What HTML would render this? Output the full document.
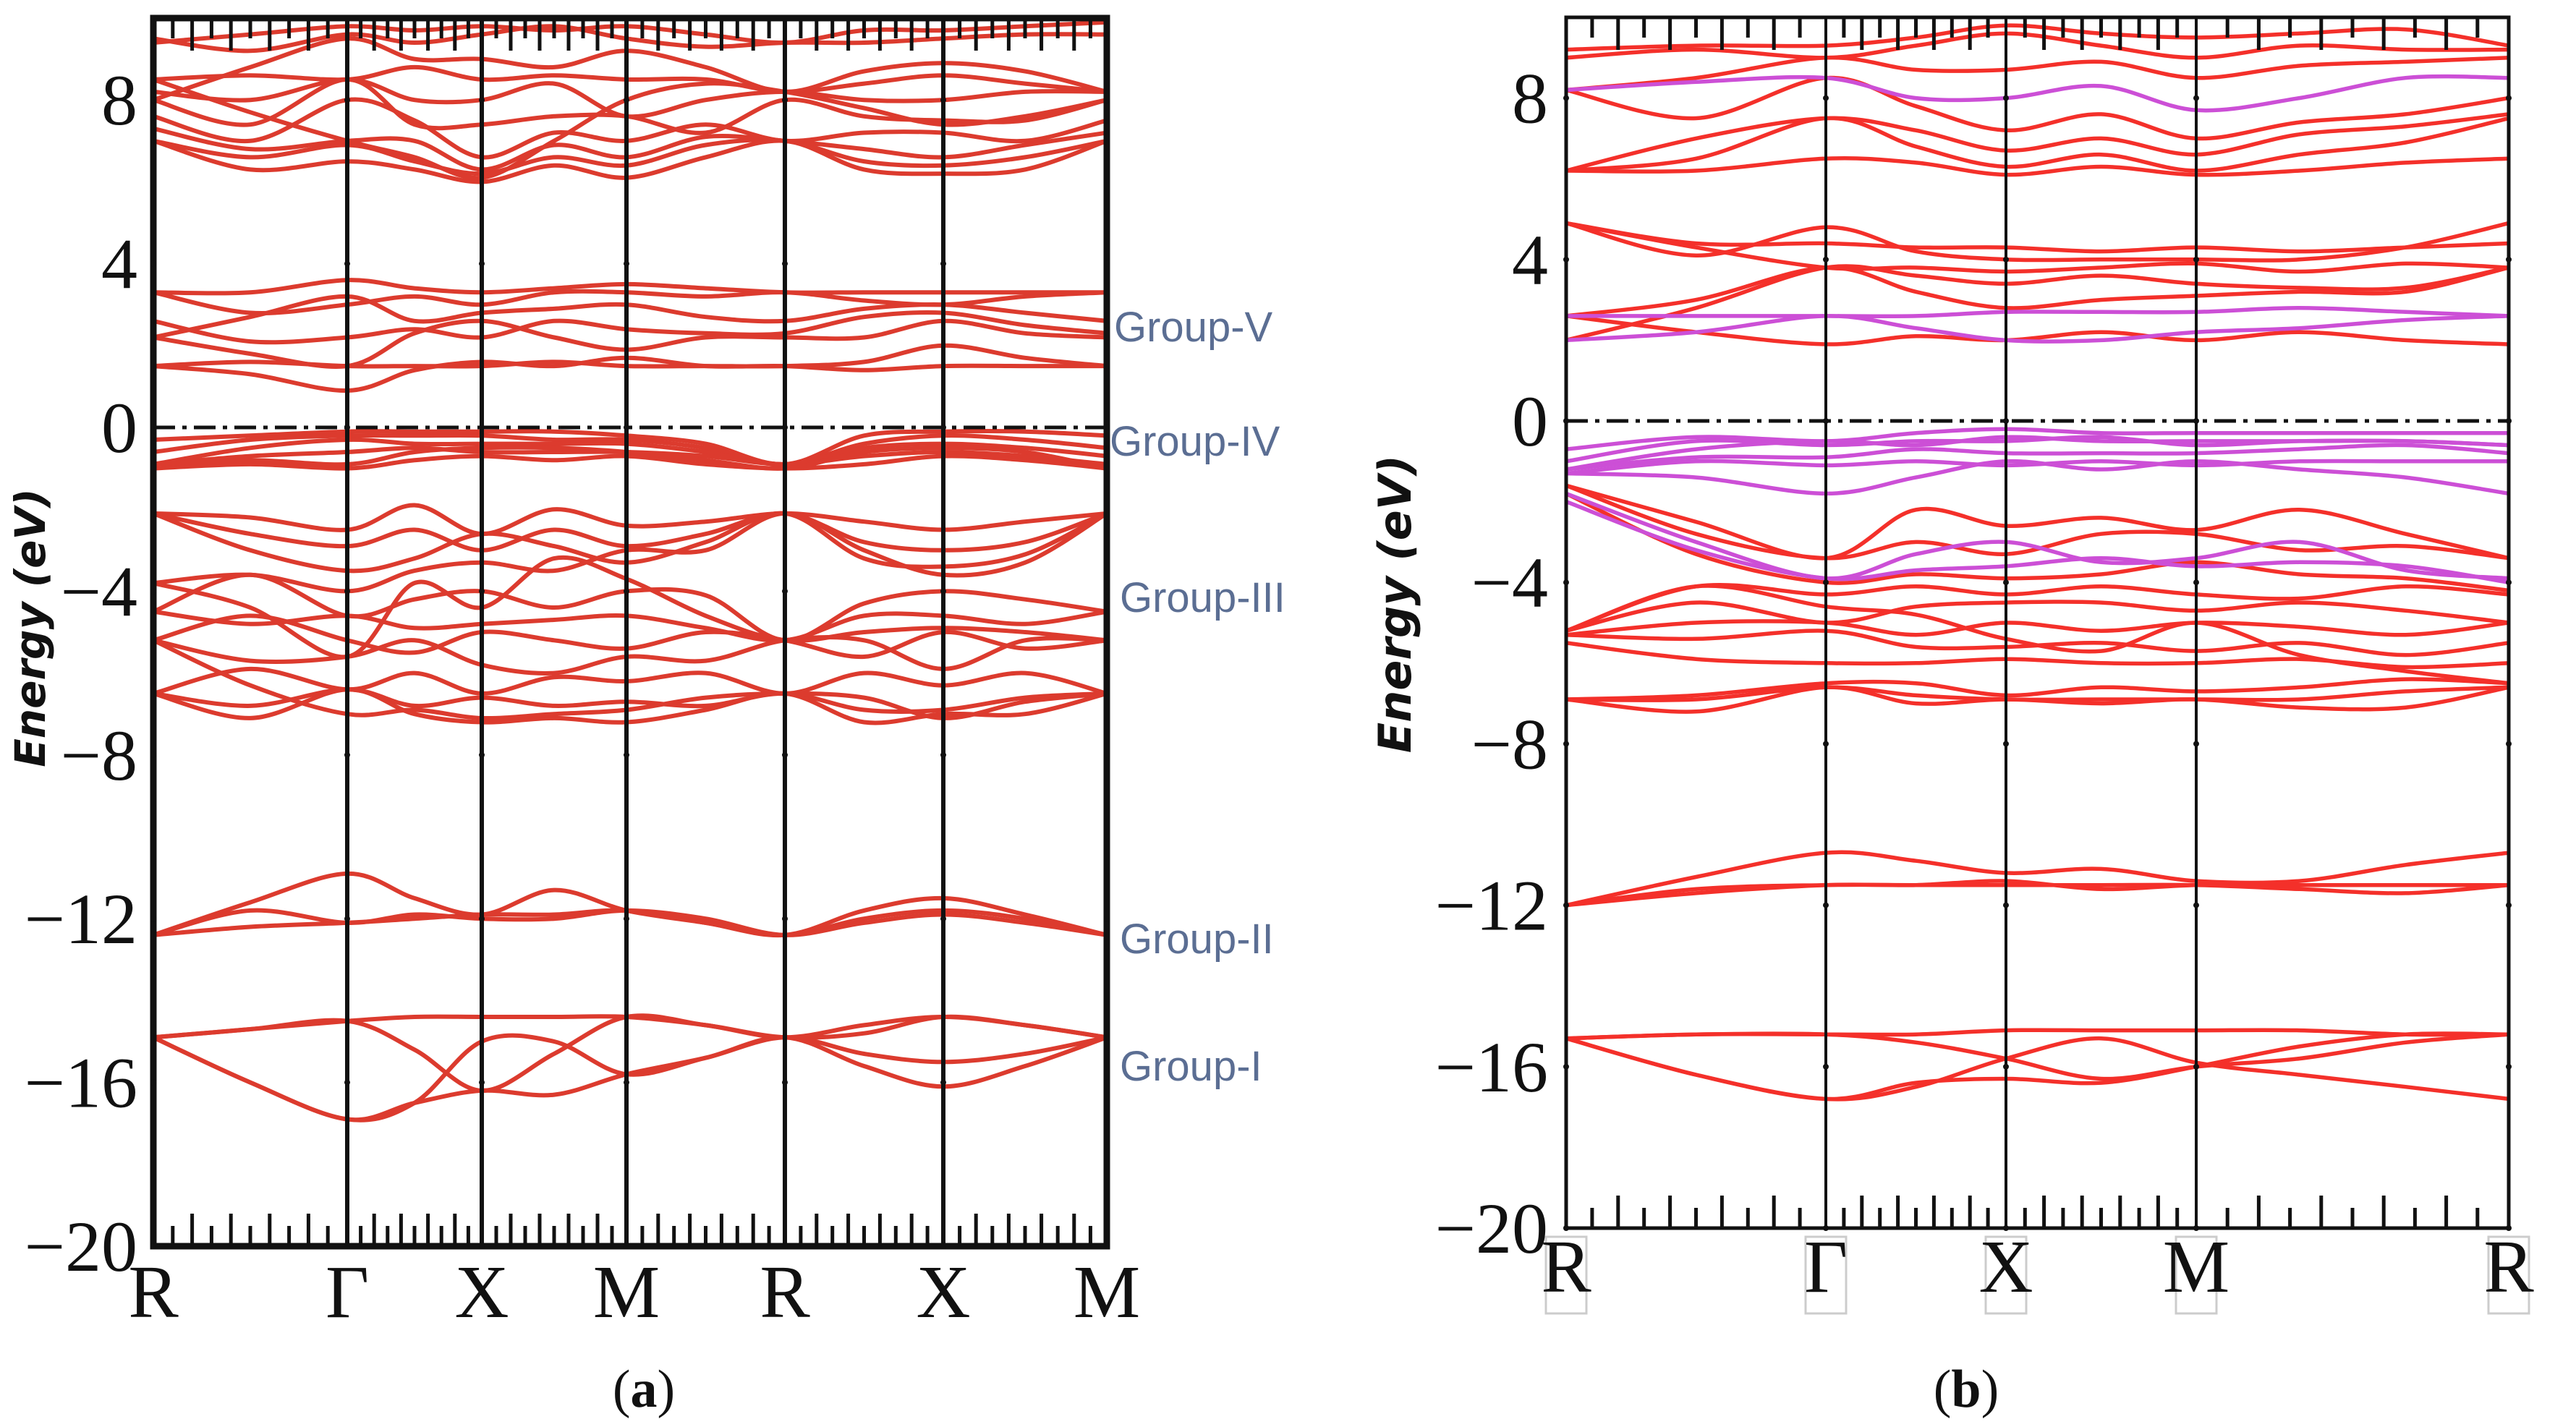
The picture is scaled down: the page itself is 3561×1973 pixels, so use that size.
<!DOCTYPE html>
<html><head><meta charset="utf-8"><style>
html,body{margin:0;padding:0;background:#fff;width:3561px;height:1973px;overflow:hidden}
svg{display:block}
.tl{font-family:"Liberation Serif",serif;font-size:100px;fill:#111}
.kl{font-family:"Liberation Serif",serif;font-size:104px;fill:#111}
.grp{font-family:"Liberation Sans",sans-serif;font-size:58px;fill:#5b6e93}
.yt{font-family:"DejaVu Sans","Liberation Sans",sans-serif;font-weight:bold;font-style:italic;fill:#111}
.cap{font-family:"Liberation Serif",serif;font-size:74px;fill:#111}
</style></head><body>
<svg id="fig" width="3561" height="1973" viewBox="0 0 3561 1973" xmlns="http://www.w3.org/2000/svg">
<text class="cap" x="890" y="1945" text-anchor="middle">(<tspan font-weight="bold">a</tspan>)</text>
<text class="cap" x="2718" y="1945" text-anchor="middle">(<tspan font-weight="bold">b</tspan>)</text>
<text class="grp" x="1540" y="472">Group-V</text>
<text class="grp" x="1534" y="630">Group-IV</text>
<text class="grp" x="1548" y="846">Group-III</text>
<text class="grp" x="1548" y="1318">Group-II</text>
<text class="grp" x="1548" y="1494">Group-I</text>
</svg>
<script>
// ---------- data ----------
const yTicks=[8,4,0,-4,-8,-12,-16,-20];
const aKLabels=["R","Γ","X","M","R","X","M"];
const bKLabels=["R","Γ","X","M","R"];
const aSamples=[0,0.5,1,1.5,2,2.5,3,3.5,4,4.5,5,5.5,6];
const bSamples=[0,0.5,1,1.5,2,2.5,3,3.33,3.67,4];
const aBands=[
[-14.9,-14.7,-14.5,-14.4,-14.4,-14.4,-14.4,-14.6,-14.9,-14.6,-14.4,-14.6,-14.9],
[-14.9,-16.0,-16.9,-16.5,-15.0,-15.0,-15.8,-15.4,-14.9,-15.3,-15.5,-15.3,-14.9],
[-14.9,-16.0,-16.9,-16.5,-16.2,-16.3,-15.8,-15.4,-14.9,-15.6,-16.1,-15.6,-14.9],
[-14.9,-14.7,-14.5,-15.2,-16.2,-15.3,-14.4,-14.6,-14.9,-14.8,-14.4,-14.6,-14.9],
[-12.4,-11.6,-10.9,-11.5,-11.9,-11.3,-11.8,-12.1,-12.4,-11.8,-11.5,-11.9,-12.4],
[-12.4,-12.2,-12.1,-12.0,-11.9,-11.9,-11.8,-12.1,-12.4,-12.0,-11.8,-12.0,-12.4],
[-12.4,-11.8,-12.1,-11.9,-12.0,-12.0,-11.8,-12.0,-12.4,-12.1,-11.9,-12.1,-12.4],
[-2.1,-2.2,-2.5,-1.9,-2.6,-2.0,-2.4,-2.3,-2.1,-2.3,-2.5,-2.3,-2.1],
[-2.1,-2.6,-2.9,-2.5,-3.0,-2.5,-2.9,-2.6,-2.1,-2.8,-3.0,-2.8,-2.1],
[-2.1,-3.0,-3.5,-3.2,-2.6,-2.9,-3.3,-2.8,-2.1,-3.2,-3.4,-3.1,-2.1],
[-3.8,-3.6,-4.0,-3.5,-3.3,-3.5,-3.0,-3.0,-2.1,-3.0,-3.6,-3.3,-2.1],
[-4.5,-3.6,-4.6,-4.2,-4.0,-4.4,-4.0,-4.1,-5.2,-4.3,-4.0,-4.2,-4.5],
[-4.5,-4.8,-4.6,-4.9,-4.8,-4.7,-4.6,-4.9,-5.2,-4.6,-4.6,-4.8,-4.5],
[-5.2,-4.6,-5.2,-5.5,-5.0,-5.2,-5.4,-5.0,-5.2,-5.6,-5.0,-5.4,-5.2],
[-5.2,-5.7,-5.6,-5.2,-5.8,-6.0,-5.6,-5.7,-5.2,-5.2,-5.9,-5.2,-5.2],
[-6.5,-5.9,-6.4,-6.0,-6.5,-6.1,-6.2,-6.0,-6.5,-6.0,-6.3,-6.0,-6.5],
[-6.5,-6.8,-6.4,-6.8,-6.6,-6.8,-6.7,-6.8,-6.5,-6.9,-6.9,-6.6,-6.5],
[-6.5,-7.1,-6.4,-7.0,-7.2,-7.1,-7.2,-6.9,-6.5,-7.2,-7.0,-7.0,-6.5],
[-5.2,-6.3,-7.0,-6.9,-7.1,-7.0,-6.9,-6.6,-6.5,-6.6,-7.1,-6.7,-6.5],
[-3.8,-4.4,-5.6,-3.8,-4.4,-3.2,-3.7,-4.6,-5.2,-5.0,-4.9,-5.0,-5.2],
[-0.3,-0.2,-0.1,-0.1,-0.1,-0.1,-0.2,-0.4,-0.9,-0.2,-0.1,-0.1,-0.2],
[-0.6,-0.3,-0.2,-0.2,-0.2,-0.3,-0.3,-0.5,-0.9,-0.4,-0.2,-0.3,-0.5],
[-0.9,-0.5,-0.3,-0.4,-0.4,-0.4,-0.4,-0.6,-0.9,-0.5,-0.4,-0.5,-0.7],
[-0.9,-0.7,-0.6,-0.5,-0.6,-0.6,-0.6,-0.7,-0.9,-0.7,-0.6,-0.7,-0.9],
[-1.0,-0.9,-1.0,-0.8,-0.7,-0.8,-0.7,-0.9,-1.0,-0.9,-0.7,-0.8,-1.0],
[-0.9,-0.8,-0.9,-0.6,-0.5,-0.5,-0.6,-0.8,-1.0,-0.6,-0.5,-0.6,-1.0],
[1.5,1.3,0.9,1.4,1.6,1.5,1.7,1.5,1.5,1.4,1.5,1.5,1.5],
[1.5,1.6,1.5,1.5,1.5,1.6,1.5,1.5,1.5,1.6,2.0,1.7,1.5],
[2.2,1.8,1.5,2.3,2.6,2.2,1.9,2.2,2.2,2.2,2.6,2.3,2.2],
[2.6,2.1,2.2,2.4,2.2,2.6,2.4,2.3,2.3,2.7,2.8,2.5,2.3],
[2.2,2.7,3.2,2.6,2.8,2.9,3.0,2.7,2.6,2.9,3.0,2.8,2.6],
[3.3,2.8,3.0,3.2,3.0,3.3,3.3,3.2,3.3,3.1,3.0,3.2,3.3],
[3.3,3.3,3.6,3.4,3.3,3.4,3.5,3.4,3.3,3.3,3.3,3.3,3.3],
[7.0,6.3,6.5,6.3,6.0,6.4,6.1,6.6,7.0,6.3,6.2,6.3,7.0],
[7.0,6.6,6.9,6.5,6.2,6.6,6.4,6.9,7.0,6.5,6.4,6.6,7.0],
[7.3,6.8,7.0,7.0,6.3,6.9,6.6,7.1,7.0,6.8,6.6,6.9,7.2],
[7.6,7.0,8.0,7.5,6.6,7.2,7.0,7.4,7.0,7.2,7.2,7.0,7.5],
[8.0,7.4,8.5,7.4,7.4,7.6,7.6,7.2,8.0,7.6,7.5,7.5,8.0],
[8.2,8.0,8.5,8.0,8.0,8.4,7.6,8.0,8.2,8.0,8.0,8.2,8.2],
[8.5,8.6,8.5,8.8,8.5,8.6,8.5,8.5,8.2,8.4,8.6,8.4,8.2],
[8.0,8.8,9.5,9.0,9.0,8.8,9.2,8.8,8.2,8.7,8.9,8.7,8.2],
[9.5,9.2,9.6,9.4,9.6,9.8,9.5,9.3,9.4,9.4,9.5,9.6,9.6],
[9.4,9.6,9.8,9.7,9.8,9.7,9.8,9.6,9.4,9.7,9.7,9.8,9.9],
[8.5,7.7,7.0,6.6,6.1,7.0,8.0,8.4,8.2,7.8,7.4,7.6,8.0]
];
const bBandsRed=[
[-15.3,-15.2,-15.2,-15.2,-15.1,-15.1,-15.1,-15.1,-15.2,-15.2],
[-15.3,-16.2,-16.8,-16.5,-15.8,-15.3,-15.9,-16.2,-16.5,-16.8],
[-15.3,-16.2,-16.8,-16.4,-16.3,-16.4,-16.0,-15.5,-15.2,-15.2],
[-15.3,-15.2,-15.2,-15.4,-15.8,-16.3,-16.0,-15.8,-15.4,-15.2],
[-12.0,-11.3,-10.7,-10.9,-11.2,-11.1,-11.4,-11.4,-11.0,-10.7],
[-12.0,-11.6,-11.5,-11.5,-11.5,-11.5,-11.5,-11.6,-11.7,-11.5],
[-12.0,-11.7,-11.5,-11.5,-11.4,-11.6,-11.5,-11.5,-11.5,-11.5],
[-1.6,-2.5,-3.4,-2.2,-2.6,-2.4,-2.7,-2.2,-2.8,-3.4],
[-1.6,-2.8,-3.4,-3.0,-3.3,-2.8,-2.8,-3.2,-3.1,-3.4],
[-1.8,-3.3,-4.0,-3.8,-3.9,-3.8,-3.5,-3.8,-3.9,-4.2],
[-5.2,-4.1,-4.3,-4.1,-4.3,-4.1,-4.3,-4.4,-4.1,-4.3],
[-5.2,-4.5,-5.0,-4.6,-4.5,-4.5,-4.7,-4.5,-4.7,-5.0],
[-5.3,-5.0,-5.0,-5.3,-5.0,-5.2,-5.0,-5.1,-5.3,-5.0],
[-5.3,-5.4,-5.2,-5.6,-5.6,-5.5,-5.7,-5.5,-5.8,-5.5],
[-5.5,-5.9,-6.0,-6.0,-5.9,-6.0,-6.0,-5.9,-6.1,-6.0],
[-6.9,-6.8,-6.5,-6.5,-6.8,-6.6,-6.7,-6.6,-6.4,-6.5],
[-6.9,-6.9,-6.6,-6.8,-6.9,-6.9,-6.9,-6.9,-6.7,-6.6],
[-6.9,-7.2,-6.6,-7.0,-6.9,-7.0,-6.9,-7.1,-7.1,-6.6],
[-5.2,-4.1,-4.6,-4.8,-5.4,-5.7,-5.0,-5.8,-6.2,-6.5],
[2.6,2.2,1.9,2.1,2.0,2.2,2.0,2.2,2.0,1.9],
[2.6,3.0,3.8,3.2,2.8,3.0,3.1,3.2,3.2,3.8],
[2.0,2.8,3.8,3.6,3.4,3.6,3.4,3.3,3.3,3.8],
[4.9,4.3,3.8,3.8,3.7,3.8,3.9,3.7,3.9,3.8],
[4.9,4.4,4.4,4.3,4.3,4.2,4.3,4.2,4.3,4.4],
[4.9,4.1,4.8,4.2,4.0,4.0,4.0,4.0,4.3,4.9],
[6.2,6.2,6.5,6.4,6.1,6.3,6.1,6.2,6.4,6.5],
[6.2,6.5,7.5,6.8,6.3,6.6,6.2,6.6,6.9,7.5],
[6.2,7.0,7.5,7.2,6.7,7.0,6.6,7.1,7.3,7.6],
[8.2,7.5,8.5,7.8,7.2,7.6,7.0,7.4,7.6,8.0],
[8.2,8.5,9.0,8.7,8.7,8.9,8.5,8.8,8.9,9.0],
[9.0,9.2,9.0,9.3,9.6,9.3,9.0,9.3,9.2,9.2],
[9.2,9.3,9.3,9.5,9.8,9.6,9.5,9.6,9.7,9.3]
];
const bBandsPurple=[
[-1.8,-3.0,-3.9,-3.3,-3.0,-3.5,-3.4,-3.0,-3.7,-3.9],
[-2.0,-3.2,-3.9,-3.7,-3.6,-3.4,-3.6,-3.5,-3.6,-4.0],
[-0.7,-0.4,-0.5,-0.3,-0.2,-0.3,-0.3,-0.3,-0.3,-0.3],
[-1.0,-0.5,-0.6,-0.5,-0.5,-0.4,-0.6,-0.5,-0.5,-0.6],
[-1.2,-0.9,-0.9,-0.7,-0.8,-0.8,-0.8,-0.7,-0.6,-0.8],
[-1.3,-1.0,-1.1,-1.0,-1.1,-1.0,-1.1,-1.0,-1.0,-1.0],
[-1.3,-1.4,-1.8,-1.4,-1.0,-1.2,-1.0,-1.2,-1.4,-1.8],
[-1.2,-0.7,-0.5,-0.6,-0.4,-0.5,-0.5,-0.5,-0.5,-0.6],
[2.0,2.2,2.6,2.3,2.0,2.0,2.2,2.3,2.5,2.6],
[2.6,2.6,2.6,2.6,2.7,2.7,2.7,2.8,2.7,2.6],
[8.2,8.4,8.5,8.0,8.0,8.3,7.7,8.0,8.5,8.5]
];
// ---------- layout ----------
const NS="http://www.w3.org/2000/svg";
const svg=document.getElementById('fig');
const panelA={left:212,right:1530,top:25,bottom:1723,nodes:[212,480,666,866,1085,1304,1530],axisW:9,vW:6,lab:aKLabels,box:false,tickX:190,color:"#dc3b2e",lw:6,yTitleX:62,yTitleY:868,yTitleSize:58};
const panelB={left:2165,right:3468,top:24,bottom:1698,nodes:[2165,2524,2773,3036,3468],axisW:5,vW:4,lab:bKLabels,box:true,tickX:2140,color:"#f4302a",lw:5.5,yTitleX:1950,yTitleY:835,yTitleSize:62};
function mk(tag,attrs,parent){const e=document.createElementNS(NS,tag);for(const k in attrs)e.setAttribute(k,attrs[k]);(parent||svg).appendChild(e);return e;}
function yScale(p,E){return p.bottom-(E+20)/30*(p.bottom-p.top);}
function xScale(p,k){const i=Math.min(Math.floor(k),p.nodes.length-2);const f=k-i;return p.nodes[i]+f*(p.nodes[i+1]-p.nodes[i]);}
function pathFor(p,samples,vals){
  const pts=samples.map((k,i)=>[xScale(p,k),yScale(p,vals[i])]);
  let d="M"+pts[0][0].toFixed(1)+","+pts[0][1].toFixed(1);
  for(let i=0;i<pts.length-1;i++){
    const p0=pts[Math.max(0,i-1)],p1=pts[i],p2=pts[i+1],p3=pts[Math.min(pts.length-1,i+2)];
    const c1=[p1[0]+(p2[0]-p0[0])/6,p1[1]+(p2[1]-p0[1])/6];
    const c2=[p2[0]-(p3[0]-p1[0])/6,p2[1]-(p3[1]-p1[1])/6];
    d+=" C"+c1[0].toFixed(1)+","+c1[1].toFixed(1)+" "+c2[0].toFixed(1)+","+c2[1].toFixed(1)+" "+p2[0].toFixed(1)+","+p2[1].toFixed(1);
  }
  return d;
}
function drawPanel(p,id,bandSets){
  const g=mk('g',{});
  
  
  const cp=mk('clipPath',{id:'clip-'+id},g);
  mk('rect',{x:p.left,y:p.top,width:p.right-p.left,height:p.bottom-p.top},cp);
  const bands=mk('g',{'clip-path':'url(#clip-'+id+')',fill:'none'},g);
  
  
  bandSets.forEach(set=>{
    set.data.forEach(vals=>{
      const pa=mk('path',{d:pathFor(p,set.samples,vals),stroke:set.color,'stroke-width':p.lw,'stroke-linecap':'round'},bands);
      
      
    });
  });
  const fl=mk('line',{x1:p.left,x2:p.right,y1:yScale(p,0),y2:yScale(p,0),stroke:'#111','stroke-width':5,'stroke-dasharray':'30 10 6 10'},g);
  
  
  p.nodes.slice(1,-1).forEach(x=>{
    const v=mk('line',{x1:x,x2:x,y1:p.top,y2:p.bottom,stroke:'#111','stroke-width':p.vW},g);
    
    
  });
  for(let s=0;s<p.nodes.length-1;s++){
    for(let j=1;j<10;j++){
      const x=p.nodes[s]+(p.nodes[s+1]-p.nodes[s])*j/10;
      const L=j%2===0?45:28;
      const t1=mk('line',{x1:x,x2:x,y1:p.bottom,y2:p.bottom-L,stroke:'#111','stroke-width':5},g);
      
      
      const t2=mk('line',{x1:x,x2:x,y1:p.top,y2:p.top+L,stroke:'#111','stroke-width':5},g);
      
      
    }
  }
  const fr=mk('rect',{x:p.left,y:p.top,width:p.right-p.left,height:p.bottom-p.top,fill:'none',stroke:'#111','stroke-width':p.axisW},g);
  
  
  yTicks.forEach(v=>{
    const y=yScale(p,v);
    const t=mk('text',{x:p.tickX,y:y+34,'text-anchor':'end',class:'tl'},g);
    t.textContent=v<0?'\u2212'+Math.abs(v):String(v);
    
    
    p.nodes.forEach(x=>{
      const dt=mk('circle',{cx:x,cy:y,r:4,fill:'#111'},g);
      
      
    });
  });
  p.lab.forEach((l,i)=>{
    const x=p.nodes[i];
    if(p.box){
      const b=mk('rect',{x:x-28,y:p.bottom+12,width:56,height:106,fill:'none',stroke:'#ccc','stroke-width':3},g);
      
      
    }
    const t=mk('text',{x:x,y:p.bottom+(p.box?88:98),'text-anchor':'middle',class:'kl'},g);
    t.textContent=l;
    
    
  });
  const yt=mk('text',{x:p.yTitleX,y:p.yTitleY,'text-anchor':'middle',class:'yt','font-size':p.yTitleSize,transform:'rotate(-90 '+p.yTitleX+' '+p.yTitleY+')'},g);
  yt.textContent='Energy (eV)';
  
  
}
drawPanel(panelA,'a',[{samples:aSamples,data:aBands,color:panelA.color}]);
drawPanel(panelB,'b',[{samples:bSamples,data:bBandsRed,color:panelB.color},{samples:bSamples,data:bBandsPurple,color:"#cc4fd6"}]);
</script>
</body></html>
